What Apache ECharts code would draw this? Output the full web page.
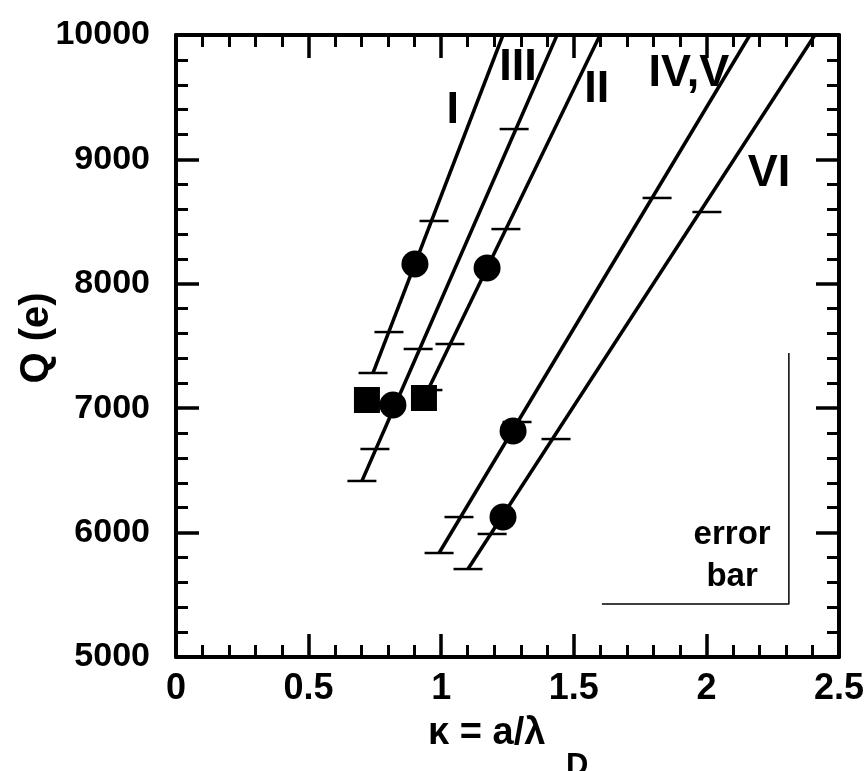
<!DOCTYPE html>
<html>
<head>
<meta charset="utf-8">
<script src="https://cdn.jsdelivr.net/npm/echarts@6/dist/echarts.min.js"></script>
<style>
  html, body { margin: 0; padding: 0; background: #fff; }
  #chart { width: 864px; height: 771px; }
</style>
</head>
<body>
<div id="chart"></div>
<script>
// fitted lines, bottom end -> top of frame
const lineI = [[0.743, 7283], [1.233, 10000]]
const lineIII = [[0.701, 6415], [1.437, 10000]]
const lineII = [[0.950, 7146], [1.599, 10000]]
const lineIVV = [[0.992, 5836], [2.164, 10000]]
const lineVI = [[1.101, 5707], [2.409, 10000]]

// short horizontal marks along each line
const ticksI = [[0.743, 7283], [0.803, 7612], [0.973, 8505]]
const ticksIII = [[0.701, 6415], [0.750, 6672], [0.913, 7476], [1.275, 9244]]
const ticksII = [[0.950, 7146], [1.033, 7516], [1.244, 8440]]
const ticksIVV = [[0.992, 5836], [1.067, 6125], [1.286, 6889], [1.814, 8690]]
const ticksVI = [[1.101, 5707], [1.192, 5989], [1.433, 6752], [2.002, 8577]]

const circles = [[0.901, 8159], [0.818, 7026], [1.173, 8127], [1.271, 6817], [1.233, 6125]]
const squares = [[0.720, 7066], [0.935, 7082]]

const curveNames = ['I', 'III', 'II', 'IV,V', 'VI']
const curveLabelPos = [[1.044, 9389], [1.290, 9735], [1.587, 9558], [1.934, 9686], [2.236, 8883]]

const errorBar = [[1.606, 5426], [2.311, 5426], [2.311, 7444]]
const errorLabelPos = [2.097, 5815]

const xTicks = { min: 0, max: 2.5, interval: 0.5 }
const yTicks = { min: 5000, max: 10000, interval: 1000 }

const FONT = 'Liberation Sans, Arial, Helvetica, sans-serif'

function frameAxis(extra) {
  return Object.assign({
    type: 'value',
    axisLine: { show: true, onZero: false, lineStyle: { color: '#000', width: 4 } },
    axisTick: { show: true, inside: true, length: 23, lineStyle: { color: '#000', width: 3.5 } },
    minorTick: { show: true, splitNumber: 5, length: 12, lineStyle: { color: '#000', width: 3 } },
    splitLine: { show: false },
    minorSplitLine: { show: false }
  }, extra)
}

const chart = echarts.init(document.getElementById('chart'))

const lineStyle = { color: '#000', width: 3.5 }
const fitLines = [lineI, lineIII, lineII, lineIVV, lineVI].map(function(d) {
  return {
    type: 'line',
    data: d,
    symbol: 'none',
    lineStyle: lineStyle,
    silent: true,
    z: 2
  }
})

const black = { color: '#000', opacity: 1 }

chart.setOption({
  animation: false,
  backgroundColor: '#fff',
  grid: { left: 176, right: 25, top: 35, bottom: 114, containLabel: false, outerBoundsMode: 'none' },
  xAxis: [
    frameAxis(Object.assign({
      position: 'bottom',
      axisLabel: { fontSize: 36, fontWeight: 'bold', color: '#000', fontFamily: FONT, margin: 14 }
    }, xTicks)),
    frameAxis(Object.assign({ position: 'top', axisLabel: { show: false } }, xTicks))
  ],
  yAxis: [
    frameAxis(Object.assign({
      position: 'left',
      axisLabel: {
        fontSize: 34, fontWeight: 'bold', color: '#000', fontFamily: FONT, margin: 26,
        formatter: function(v) { return String(v) }
      }
    }, yTicks)),
    frameAxis(Object.assign({ position: 'right', axisLabel: { show: false } }, yTicks))
  ],
  graphic: [
    {
      type: 'text',
      x: 37,
      y: 338,
      rotation: Math.PI / 2,
      style: {
        text: 'Q (e)', font: 'bold 40px ' + FONT, fill: '#000',
        align: 'center', verticalAlign: 'middle'
      }
    },
    {
      type: 'text',
      left: 428,
      top: 715,
      style: { text: 'κ = a/λ', font: 'bold 38px ' + FONT, fill: '#000' }
    },
    {
      type: 'text',
      left: 566,
      top: 751,
      style: { text: 'D', font: 'bold 31px ' + FONT, fill: '#000' }
    }
  ],
  series: fitLines.concat([
    {
      type: 'scatter',
      data: [].concat(ticksI, ticksIII, ticksII, ticksIVV, ticksVI),
      symbol: 'rect',
      symbolSize: [29, 2.5],
      itemStyle: black,
      silent: true,
      z: 3
    },
    {
      type: 'scatter',
      data: circles,
      symbol: 'circle',
      symbolSize: 27,
      itemStyle: black,
      silent: true,
      z: 4
    },
    {
      type: 'scatter',
      data: squares,
      symbol: 'rect',
      symbolSize: 26,
      itemStyle: black,
      silent: true,
      z: 4
    },
    {
      type: 'line',
      data: errorBar,
      symbol: 'none',
      lineStyle: { color: '#000', width: 1.5 },
      silent: true,
      z: 2
    },
    {
      type: 'scatter',
      data: curveLabelPos.map(function(p, i) { return { name: curveNames[i], value: p } }),
      symbolSize: 0,
      itemStyle: black,
      silent: true,
      label: {
        show: true,
        position: 'inside',
        formatter: '{b}',
        fontSize: 45,
        fontWeight: 'bold',
        color: '#000',
        opacity: 1,
        fontFamily: FONT
      },
      z: 5
    },
    {
      type: 'scatter',
      data: [{ name: 'error\nbar', value: errorLabelPos }],
      symbolSize: 0,
      itemStyle: black,
      silent: true,
      label: {
        show: true,
        position: 'inside',
        formatter: '{b}',
        fontSize: 33,
        lineHeight: 42,
        fontWeight: 'bold',
        color: '#000',
        opacity: 1,
        fontFamily: FONT
      },
      z: 5
    }
  ])
})
</script>
</body>
</html>
